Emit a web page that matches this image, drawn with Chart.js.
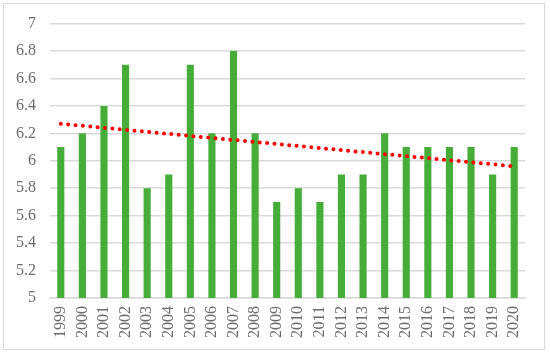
<!DOCTYPE html>
<html><head><meta charset="utf-8">
<script src="https://cdn.jsdelivr.net/npm/chart.js@4/dist/chart.umd.min.js"></script>
<style>
html,body{margin:0;padding:0;background:#fff;}
#wrap{position:absolute;left:0;top:0;width:550px;height:356px;}
#frame{position:absolute;left:3px;top:3px;width:542px;height:347px;border:1px solid #d9d9d9;box-sizing:border-box;}
canvas{position:absolute;left:0;top:0;}
</style></head><body>
<div id="wrap"><div id="frame"></div><canvas id="c" width="550" height="356"></canvas></div>
<script>
const years = ["1999","2000","2001","2002","2003","2004","2005","2006","2007","2008","2009","2010","2011","2012","2013","2014","2015","2016","2017","2018","2019","2020"];
const values = [6.1,6.2,6.4,6.7,5.8,5.9,6.7,6.2,6.8,6.2,5.7,5.8,5.7,5.9,5.9,6.2,6.1,6.1,6.1,6.1,5.9,6.1];
const trendStart = 6.27;
const trendEnd = 5.96;
const trend = years.map((y,i)=> i===0 ? trendStart : (i===years.length-1 ? trendEnd : null));
const font = {family:"'Liberation Serif', 'DejaVu Serif', serif", size:16};
new Chart(document.getElementById('c'), {
  data:{
    labels: years,
    datasets:[
      {type:'line', data: trend, borderColor:'#ff0000', borderWidth:4, borderDash:[0,7.4], borderCapStyle:'round', pointRadius:0, spanGaps:true, order:0},
      {type:'bar', data: values, backgroundColor:'#45ad38', barPercentage:0.33, categoryPercentage:1.0, order:1}
    ]
  },
  options:{
    responsive:false, animation:false,
    layout:{padding:{left:0,right:25,top:22,bottom:0}},
    plugins:{legend:{display:false}, tooltip:{enabled:false}},
    scales:{
      x:{
        grid:{display:false, drawTicks:false},
        border:{display:true, color:'#d9d9d9', width:1.5},
        ticks:{color:'#6b6b6b', font:font, minRotation:90, maxRotation:90, padding:8, autoSkip:false},
        afterFit:(s)=>{s.height=58;}
      },
      y:{
        min:5, max:7,
        grid:{color:'#d9d9d9', lineWidth:1.5, drawTicks:false},
        border:{display:false},
        ticks:{stepSize:0.2, color:'#6b6b6b', font:font, padding:14,
          callback:(v)=>Math.round(v*10)/10+''},
        afterFit:(s)=>{s.width=50;}
      }
    }
  }
});
</script>
</body></html>
